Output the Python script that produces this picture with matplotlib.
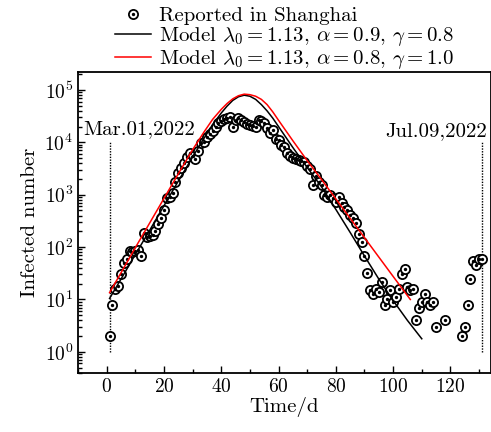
import matplotlib
matplotlib.use('Agg')
import matplotlib.pyplot as plt
from matplotlib.legend_handler import HandlerTuple
from matplotlib.ticker import MultipleLocator, LogLocator, NullFormatter

plt.rcParams['font.family'] = 'cmr10'
plt.rcParams['mathtext.fontset'] = 'cm'
plt.rcParams['axes.formatter.use_mathtext'] = True

# reported daily cases in Shanghai (day 1 = Mar.01,2022)
days = list(range(1, 116)) + [118, 124, 125, 126, 127, 128, 129, 130, 131]
cases = [2, 8, 16, 18, 30, 50, 58, 83, 79, 85,
         87, 69, 186, 155, 166, 170, 204, 282, 355, 513,
         851, 912, 1072, 1778, 2570, 3236, 3981, 5248, 6166, 5370,
         4786, 6918, 9550, 10230, 12590, 14450, 16600, 19950, 23440, 25700,
         28180, 29510, 30200, 19950, 26920, 28840, 26920, 23990, 22390, 21380,
         20890, 19950, 26920, 25120, 22910, 18620, 14790, 17380, 11480, 11220,
         8913, 8318, 6310, 5370, 5012, 4786, 4571, 4365, 4266, 3467,
         3162, 1549, 2239, 1778, 1549, 1000, 912, 1000, 851, 741,
         912, 692, 589, 513, 407, 355, 288, 178, 126, 69,
         32, 15, 13, 16, 14, 22, 8, 10, 15, 9,
         11, 16, 30, 38, 17, 15, 16, 4, 7, 9,
         13, 9, 8, 9, 3,
         4, 2, 3, 8, 25, 55, 46, 59, 59]

# model 1: lambda0=1.13, alpha=0.9, gamma=0.8
t_black = [1, 5, 10, 15, 20, 25, 30, 34, 37, 40, 42, 44, 46, 48, 50, 52, 54, 56, 58, 60,
           65, 70, 75, 80, 85, 90, 95, 100, 105, 110]
log_black = [1.02, 1.39, 1.86, 2.32, 2.79, 3.26, 3.72, 4.08, 4.34, 4.56, 4.69, 4.80, 4.87, 4.90,
             4.88, 4.82, 4.72, 4.60, 4.46, 4.30, 3.90, 3.52, 3.15, 2.72, 2.28, 1.83, 1.39,
             0.98, 0.60, 0.25]

# model 2: lambda0=1.13, alpha=0.8, gamma=1.0
t_red = [1, 5, 10, 15, 20, 25, 30, 34, 37, 40, 42, 44, 46, 48, 50, 52, 54, 56, 58, 60,
         65, 70, 75, 80, 85, 90, 95, 100, 106]
log_red = [1.13, 1.51, 1.99, 2.46, 2.93, 3.40, 3.86, 4.20, 4.44, 4.63, 4.74, 4.83, 4.89, 4.92,
           4.91, 4.88, 4.82, 4.72, 4.58, 4.42, 4.03, 3.65, 3.29, 2.92, 2.55, 2.18, 1.81,
           1.44, 1.00]

y_black = [10 ** v for v in log_black]
y_red = [10 ** v for v in log_red]

fig = plt.figure(figsize=(4.91, 4.32), dpi=100)
ax = fig.add_axes([0.159, 0.137, 0.84, 0.696])

# start / end markers
ax.plot([1, 1], [1, 1e4], color='black', linestyle=(0, (1, 1)), linewidth=1.0)
ax.plot([131, 131], [1, 1e4], color='black', linestyle=(0, (1, 1)), linewidth=1.0)
ax.text(-8.3, 10 ** 4.25, 'Mar.01,2022', fontsize=15, ha='left', va='center')
ax.text(132.8, 10 ** 4.22, 'Jul.09,2022', fontsize=15, ha='right', va='center')

circ, = ax.plot(days, cases, linestyle='none', marker='o', markersize=6.6,
                markerfacecolor='white', markeredgecolor='black', markeredgewidth=1.3, zorder=3)
dot, = ax.plot(days, cases, linestyle='none', marker='o', markersize=1.4,
               color='black', zorder=4)
l1, = ax.plot(t_black, y_black, color='black', linewidth=1.1, zorder=5)
l2, = ax.plot(t_red, y_red, color='red', linewidth=1.1, zorder=5)

ax.set_yscale('log')
ax.set_xlim(-10, 134)
ax.set_ylim(10 ** -0.4, 10 ** 5.34)
ax.xaxis.set_major_locator(MultipleLocator(20))
ax.xaxis.set_minor_locator(MultipleLocator(10))
ax.yaxis.set_major_locator(LogLocator(base=10, numticks=10))
ax.yaxis.set_minor_locator(LogLocator(base=10, subs=range(2, 10), numticks=10))
ax.yaxis.set_minor_formatter(NullFormatter())
ax.tick_params(which='both', direction='in', labelsize=14, width=1.0)
ax.tick_params(which='major', length=5)
ax.tick_params(which='minor', length=3)
for s in ax.spines.values():
    s.set_linewidth(1.3)

ax.set_xlabel('Time/d', fontsize=15, labelpad=1)
ax.set_ylabel('Infected number', fontsize=15)

leg = fig.legend([(circ, dot), l1, l2],
                 ['Reported in Shanghai',
                  r'Model $\lambda_0=1.13$, $\alpha=0.9$, $\gamma=0.8$',
                  r'Model $\lambda_0=1.13$, $\alpha=0.8$, $\gamma=1.0$'],
                 handler_map={tuple: HandlerTuple(ndivide=1)},
                 loc='upper center', bbox_to_anchor=(0.5795, 0.984), frameon=False,
                 fontsize=15, handlelength=1.75, borderpad=0.0, borderaxespad=0.0,
                 labelspacing=0.0, handletextpad=0.4)

fig.savefig('out.png', dpi=100)
